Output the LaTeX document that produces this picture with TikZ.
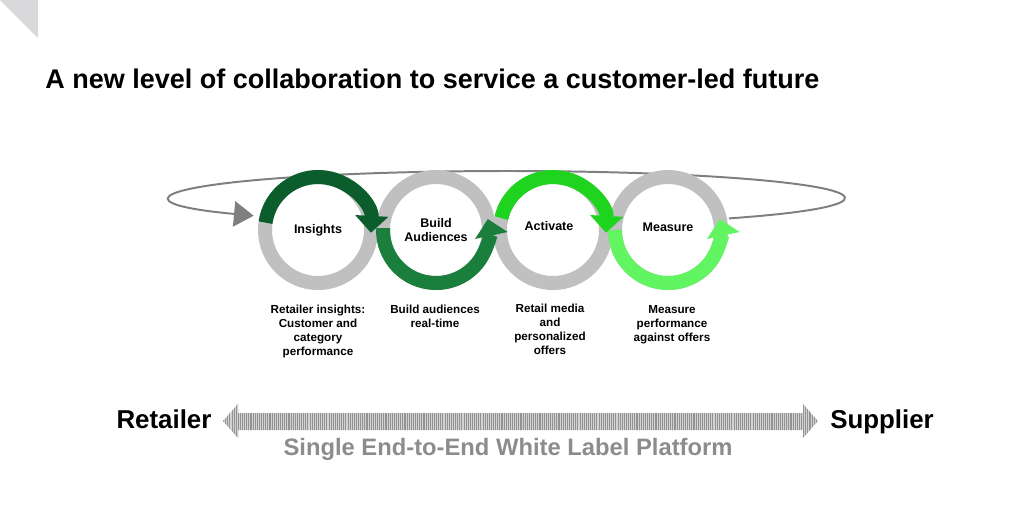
\documentclass[tikz,border=0pt]{standalone}
\usepackage{fontspec}
\setmainfont{Liberation Sans}
\usetikzlibrary{arrows.meta,patterns.meta,calc,positioning}

\definecolor{ringgray}{HTML}{C0C0C0}
\definecolor{insgreen}{HTML}{0B5E2B}
\definecolor{bldgreen}{HTML}{1A7F3C}
\definecolor{actgreen}{HTML}{1ED41E}
\definecolor{measgreen}{HTML}{62F562}
\definecolor{loopgray}{HTML}{7F7F7F}
\definecolor{labelgray}{HTML}{8C8C8C}
\definecolor{cornergray}{HTML}{D9D9DC}

\tikzset{
  ring/.style={draw=ringgray,line width=0.35cm},
  ringarc/.style={line width=0.35cm,-{Triangle[width=23pt,length=12pt]}},
  ringlabel/.style={font=\fontsize{8.9}{10.5}\selectfont\bfseries,align=center,inner sep=0pt},
  desc/.style={font=\fontsize{8.3}{10}\selectfont\bfseries,align=center,anchor=north,inner sep=0pt},
  endlabel/.style={font=\fontsize{18.4}{21}\selectfont\bfseries,inner sep=0pt,anchor=base}
}

\begin{document}
\begin{tikzpicture}[x=0.025cm,y=0.025cm]

       \useasboundingbox (0,0) rectangle (1024,-528);
       \fill[cornergray] (0,0) -- (38,0) -- (38,-38) -- cycle;

       \node[anchor=base west,inner sep=0pt,font=\fontsize{19.2}{23}\selectfont\bfseries] (title) at (45,-88)
       {A new level of collaboration to service a customer-led future};

       % centres of the rings
       \coordinate (RI) at (318,-230);
       \coordinate (RB) at (436,-230);
       \coordinate (RA) at (553,-230);
       \coordinate (RM) at (668,-230);

       % outer loop
       \coordinate (LC) at (508,-198);
       \draw[loopgray,line width=1.4pt,-{Triangle[width=18pt,length=14pt]}]
       ($(LC)+(-49:337 and 27)$) arc[start angle=-49,end angle=221,x radius=337,y radius=27];

       \foreach \c in {RI,RB,RA,RM}
         \draw[ring] (\c) circle (53);

       \draw[ringarc,measgreen] ($(RM)+(180:53)$) arc[start angle=180,end angle=372,radius=53];
       \draw[ringarc,actgreen]  ($(RA)+(167:53)$) arc[start angle=167,end angle=-3,radius=53];
       \draw[ringarc,bldgreen]  ($(RB)+(178:53)$) arc[start angle=178,end angle=372,radius=53];
       \draw[ringarc,insgreen]  ($(RI)+(172:53)$) arc[start angle=172,end angle=-3,radius=53];

       \node[ringlabel] (ins) at (RI) {Insights};
       \node[ringlabel] (bld) at (RB) {Build\\Audiences};
       \node[ringlabel] (act) at (549,-226) {Activate};
       \node[ringlabel] (mea) at (668,-227) {Measure};

       \node[desc] (dins) at (318,-305) {Retailer insights:\\Customer and\\category\\performance};
       \node[desc] (dbld) at (435,-305) {Build audiences\\real-time};
       \node[desc] (dact) at (550,-304) {Retail media\\and\\personalized\\offers};
       \node[desc] (dmea) at (672,-305) {Measure\\performance\\against offers};

       % platform arrow
       \node[endlabel] (ret) at (164,-428) {Retailer};
       \node[endlabel] (sup) at (882,-428) {Supplier};

       \fill[gray!35] (223,-421) -- (238,-404) -- (238,-413) -- (803,-413) -- (803,-404)
       -- (818,-421) -- (803,-438) -- (803,-430) -- (238,-430) -- (238,-438) -- cycle;
       \fill[pattern={Lines[angle=90,distance=1.5pt,line width=0.75pt]},pattern color=gray!85]
       (223,-421) -- (238,-404) -- (238,-413) -- (803,-413) -- (803,-404)
       -- (818,-421) -- (803,-438) -- (803,-430) -- (238,-430) -- (238,-438) -- cycle;

       \node[font=\fontsize{16.9}{20}\selectfont\bfseries,text=labelgray,inner sep=0pt] (plat) at (508,-449)
       {Single End-to-End White Label Platform};

\end{tikzpicture}
\end{document}
